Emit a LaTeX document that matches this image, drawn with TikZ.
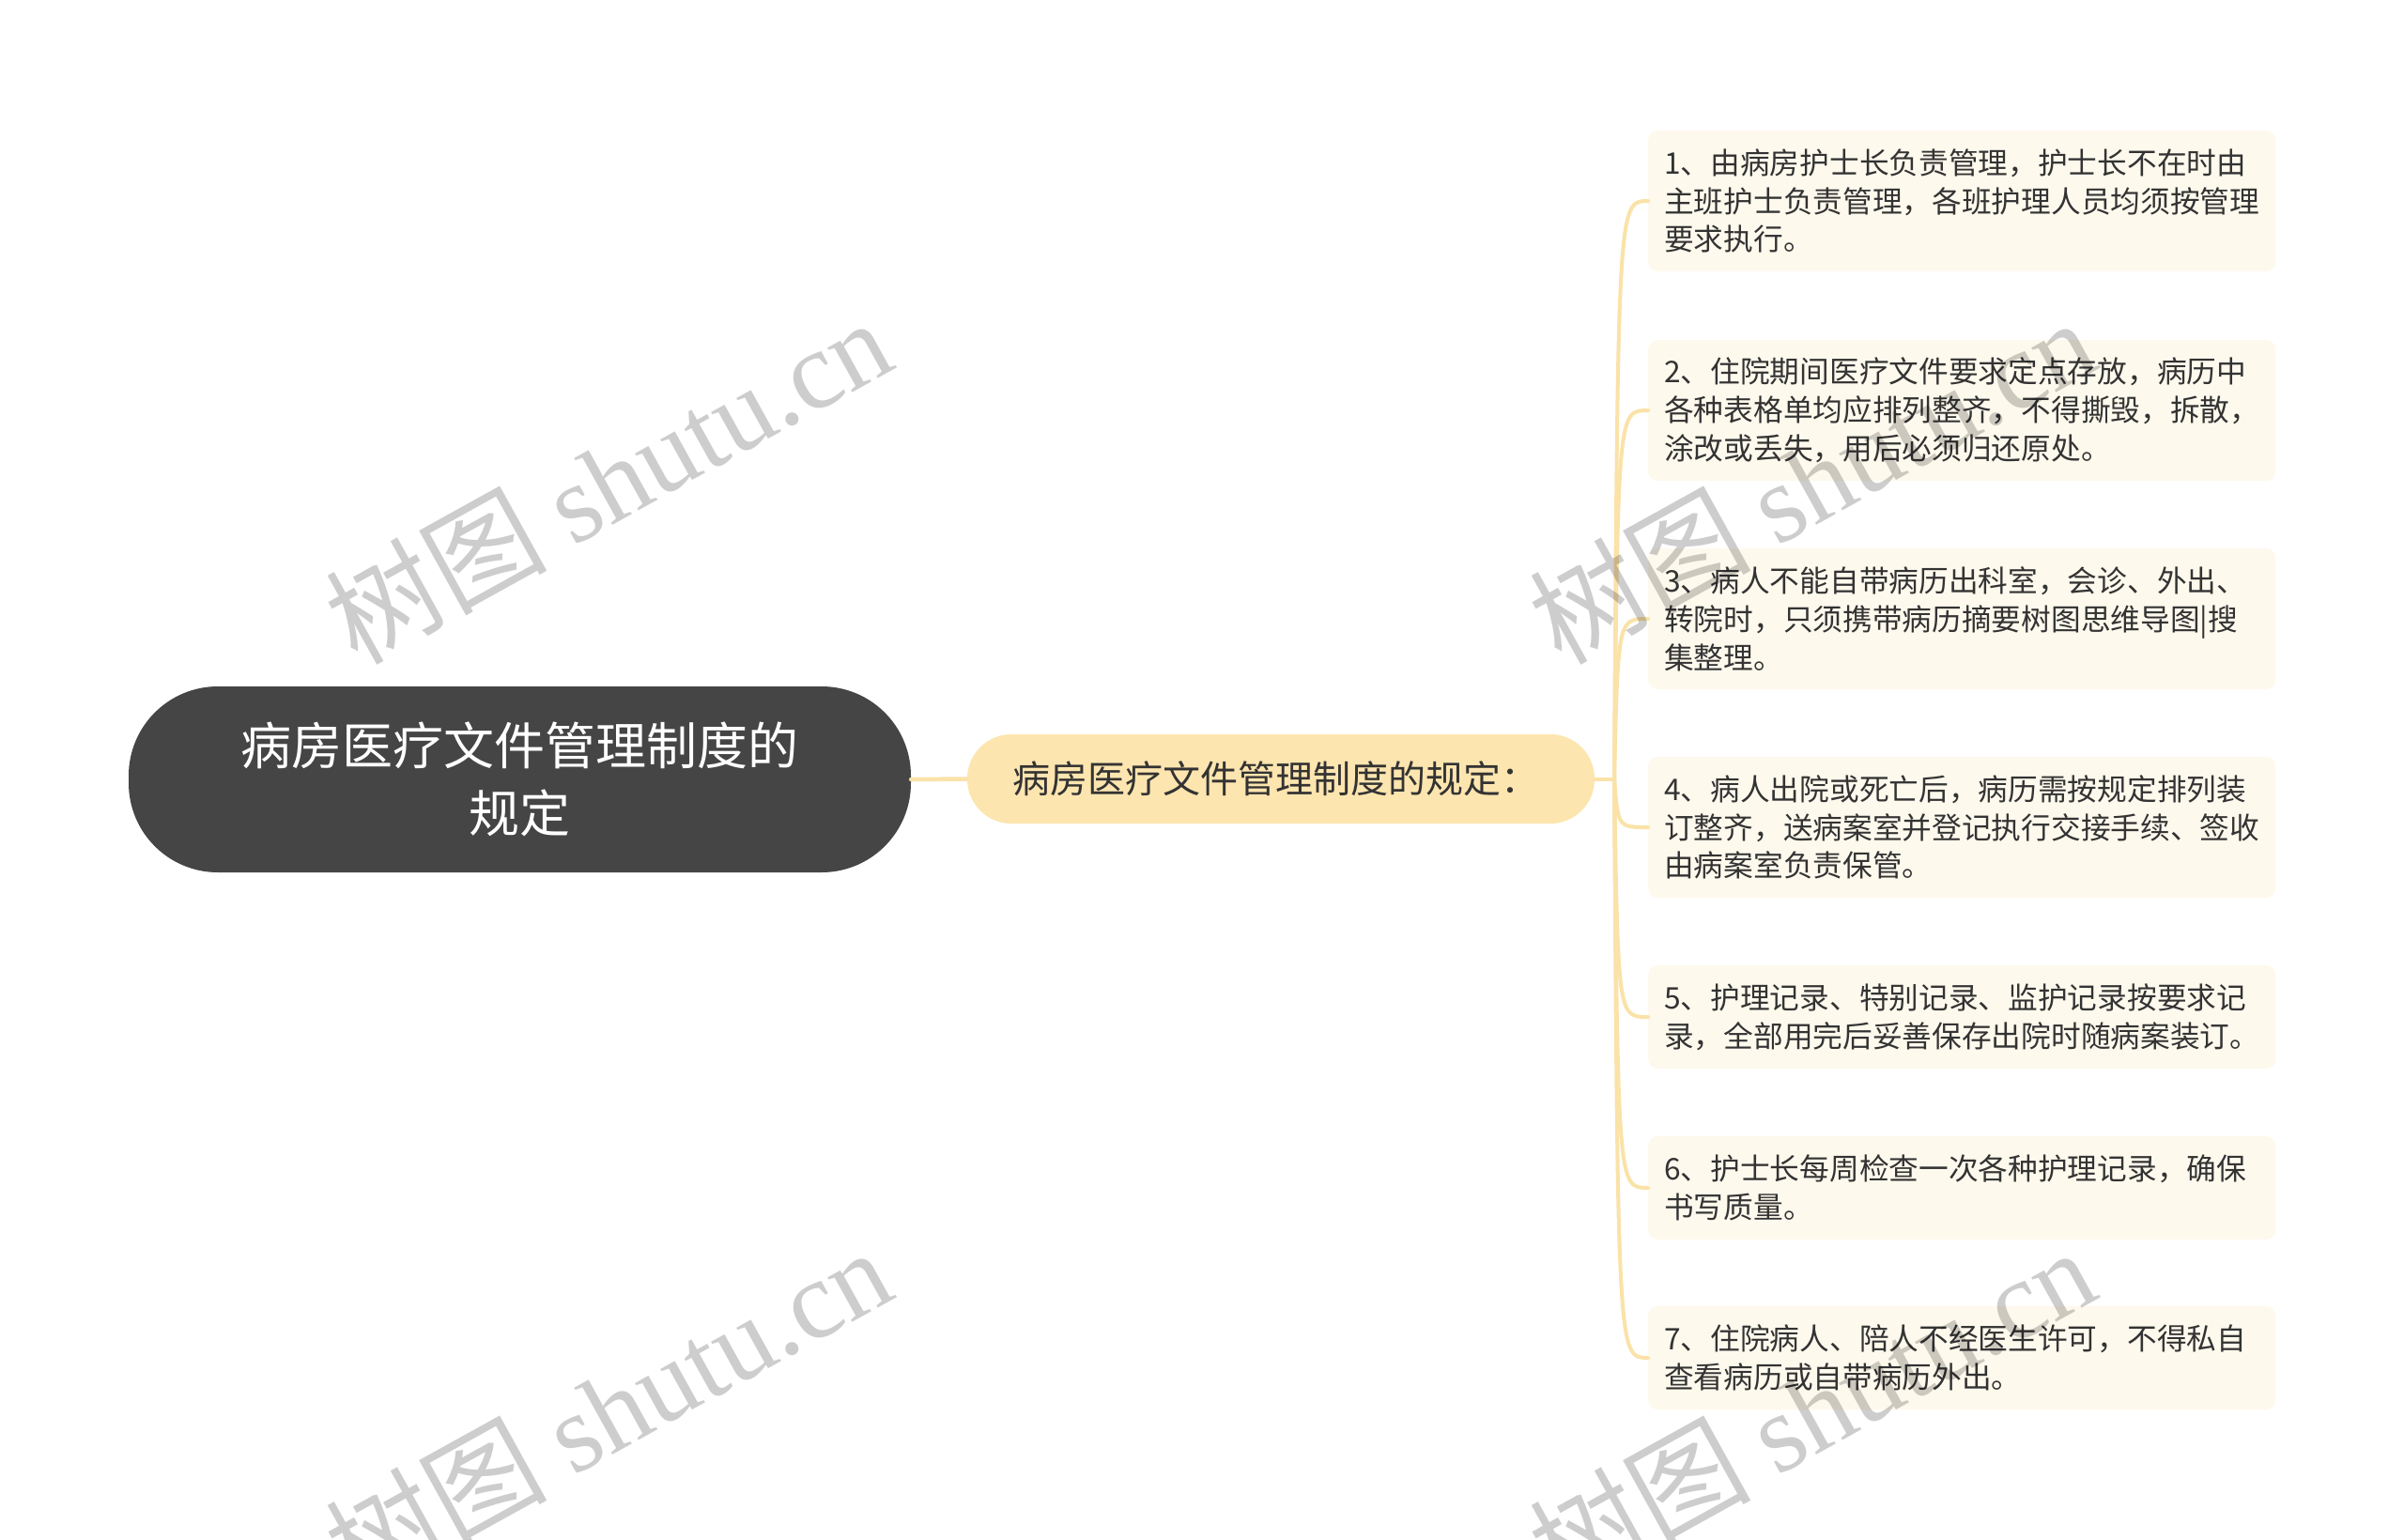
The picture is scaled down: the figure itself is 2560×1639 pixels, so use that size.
\documentclass[tikz,border=0pt]{standalone}
\usepackage{fontspec}
\setmainfont{Noto Sans CJK SC}
\newfontfamily\wmlatin{Liberation Serif}
\usetikzlibrary{calc}
\definecolor{rootfill}{HTML}{454545}
\definecolor{midfill}{HTML}{FDE5AF}
\definecolor{leaffill}{HTML}{FEF9ED}
\definecolor{connc}{HTML}{FAE2A8}
\definecolor{textc}{HTML}{333333}
\definecolor{wmc}{HTML}{CDCDCD}
\begin{document}
\begin{tikzpicture}[x=1pt,y=-1pt,
  rootbox/.style={fill=rootfill, text=white, align=center, minimum width=833, minimum height=198,
    rounded corners=95, inner sep=0, font=\fontsize{54}{72}\selectfont},
  midbox/.style={fill=midfill, text=textc, align=left, text width=572, inner xsep=48, inner ysep=0,
    minimum height=95, rounded corners=47, font=\fontsize{40}{48}\selectfont},
  leafbox/.style={fill=leaffill, text=textc, align=left, text width=634, inner xsep=17, inner ysep=0,
    rounded corners=10, anchor=west, font=\fontsize{31.7}{40.8}\selectfont},
  leafthree/.style={leafbox, minimum height=150},
  leaftwo/.style={leafbox, minimum height=110},
  conn/.style={draw=connc, line width=4, line cap=round},
  wm/.style={text=wmc, rotate=29, inner sep=0, font=\fontsize{118}{118}\selectfont}
]
\useasboundingbox (0,0) rectangle (2560,1639);
\fill[white] (0,0) rectangle (2560,1639);

\node[rootbox] (r) at (553.5,830) {病房医疗文件管理制度的\\规定};
\node[midbox] (m) at (1364,829.5) {病房医疗文件管理制度的规定：};

\node[leafthree] (l1) at (1755,214) {1、由病房护士长负责管理，护士长不在时由\\主班护士负责管理，各班护理人员均须按管理\\要求执行。};
\node[leafthree] (l2) at (1755,437) {2、住院期间医疗文件要求定点存放，病历中\\各种表格单均应排列整齐，不得撕毁，拆散，\\涂改或丢失，用后必须归还原处。};
\node[leafthree] (l3) at (1755,659) {3、病人不能自带病历出科室，会诊、外出、\\转院时，只须携带病历摘要树图思维导图|搜\\集整理。};
\node[leafthree] (l4) at (1755,881) {4、病人出院或死亡后，病历需按规定排列装\\订整齐，送病案室并登记执行交接手续、签收\\由病案室负责保管。};
\node[leaftwo] (l5) at (1755,1083) {5、护理记录、特别记录、监护记录按要求记\\录，全部用完后妥善保存出院时随病案装订。};
\node[leaftwo] (l6) at (1755,1265) {6、护士长每周检查一次各种护理记录，确保\\书写质量。};
\node[leaftwo] (l7) at (1755,1446) {7、住院病人、陪人不经医生许可，不得私自\\查看病历或自带病历外出。};

\coordinate (J) at (1719,829.5);
\draw[conn, line width=4.5] (r.east) -- (m.west);
\draw[conn] (m.east) -- (J);
\foreach \l in {l1,l2,l3,l4,l5,l6,l7}
  \draw[conn] (J) .. controls ($(J |- \l.west)+(4,0)$) .. (\l.west);

\begin{scope}[blend mode=multiply]
\node[wm] (w1) at (647,511) {树图 {\wmlatin shutu.cn}};
\node[wm] (w2) at (1929,511) {树图 {\wmlatin shutu.cn}};
\node[wm] (w3) at (647,1501) {树图 {\wmlatin shutu.cn}};
\node[wm] (w4) at (1929,1501) {树图 {\wmlatin shutu.cn}};
\end{scope}
\end{tikzpicture}
\end{document}
